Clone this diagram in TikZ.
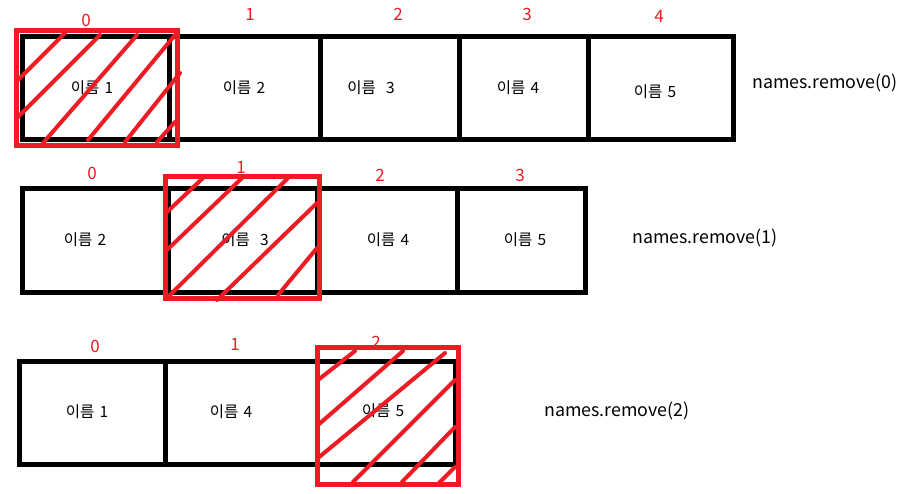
\documentclass[tikz,border=0pt]{standalone}
\usepackage{fontspec}
\setmainfont{Noto Sans CJK KR}
\definecolor{pred}{HTML}{ED1C24}
\newcommand{\nm}[1]{이름\hspace{0.33em}#1}
\begin{document}
\begin{tikzpicture}[x=1pt,y=-1pt,
  cellbox/.style={draw=black,line width=5pt},
  divider/.style={draw=black,line width=5pt},
  redbox/.style={draw=pred,line width=5pt},
  hatch/.style={draw=pred,line width=4pt,line cap=round},
  idx/.style={text=pred,font=\fontsize{17}{19}\selectfont,inner sep=0pt},
  cell/.style={font=\fontsize{15.5}{17}\selectfont,inner sep=0pt},
  cmd/.style={font=\fontsize{17.8}{20}\selectfont,inner sep=0pt}]
\useasboundingbox[fill=white] (0,0) rectangle (920,494);

% ---------- row 1 ----------
\draw[cellbox] (22,37) rectangle (733,140);
\foreach \x in {169.5,320,459.5,588} \draw[divider] (\x,37) -- (\x,140);
\node[idx] (r1i0) at (86,20) {0};
\node[idx] (r1i1) at (250,14) {1};
\node[idx] (r1i2) at (398,14) {2};
\node[idx] (r1i3) at (527,14) {3};
\node[idx] (r1i4) at (659,16) {4};
\node[cell] (r1c0) at (92,88) {\nm{1}};
\node[cell] (r1c1) at (244,88) {\nm{2}};
\node[cell] (r1c2) at (371,88) {이름\hspace{0.66em}3};
\node[cell] (r1c3) at (518,88) {\nm{4}};
\node[cell] (r1c4) at (655,92) {\nm{5}};
\node[cmd] (r1cmd) at (825,83) {names.remove(0)};
\draw[hatch] (18,80) -- (65,33);
\draw[hatch] (18,117) -- (100,35);
\draw[hatch] (43,143) -- (137,35);
\draw[hatch] (88,140) -- (175,35);
\draw[hatch] (125,142) -- (180,73);
\draw[hatch] (157,142) -- (175,122);
\draw[redbox] (16,30.5) rectangle (177,145.5);

% ---------- row 2 ----------
\draw[cellbox] (22,189) rectangle (585,292.5);
\foreach \x in {168,317,457} \draw[divider] (\x,189) -- (\x,292.5);
\node[idx] (r2i0) at (92,173) {0};
\node[idx] (r2i1) at (241,167) {1};
\node[idx] (r2i2) at (380,175) {2};
\node[idx] (r2i3) at (520,175) {3};
\node[cell] (r2c0) at (85,240) {\nm{2}};
\node[cell] (r2c1) at (245,240) {이름\hspace{0.66em}3};
\node[cell] (r2c2) at (388,240) {\nm{4}};
\node[cell] (r2c3) at (525,240) {\nm{5}};
\node[cmd] (r2cmd) at (705,238) {names.remove(1)};
\draw[hatch] (167,212) -- (203,178);
\draw[hatch] (167,250) -- (242,178);
\draw[hatch] (170,295) -- (288,178);
\draw[hatch] (217,300) -- (317,203);
\draw[hatch] (278,295) -- (317,248);
\draw[redbox] (165,177) rectangle (319.5,298);

% ---------- row 3 ----------
\draw[cellbox] (19.5,361) rectangle (455,464.5);
\foreach \x in {165,317} \draw[divider] (\x,361) -- (\x,464.5);
\node[idx] (r3i0) at (95,346) {0};
\node[idx] (r3i1) at (235,344) {1};
\node[idx] (r3i2) at (376,342) {2};
\node[cell] (r3c0) at (87,412) {\nm{1}};
\node[cell] (r3c1) at (231,412) {\nm{4}};
\node[cell] (r3c2) at (383,411) {\nm{5}};
\node[cmd] (r3cmd) at (617,411) {names.remove(2)};
\draw[hatch] (318,380) -- (355,351);
\draw[hatch] (318,425) -- (403,351);
\draw[hatch] (318,458) -- (445,353);
\draw[hatch] (353,482) -- (455,380);
\draw[hatch] (402,482) -- (455,427);
\draw[hatch] (437,485) -- (455,467);
\draw[redbox] (317,347.5) rectangle (458,484);
\end{tikzpicture}
\end{document}
